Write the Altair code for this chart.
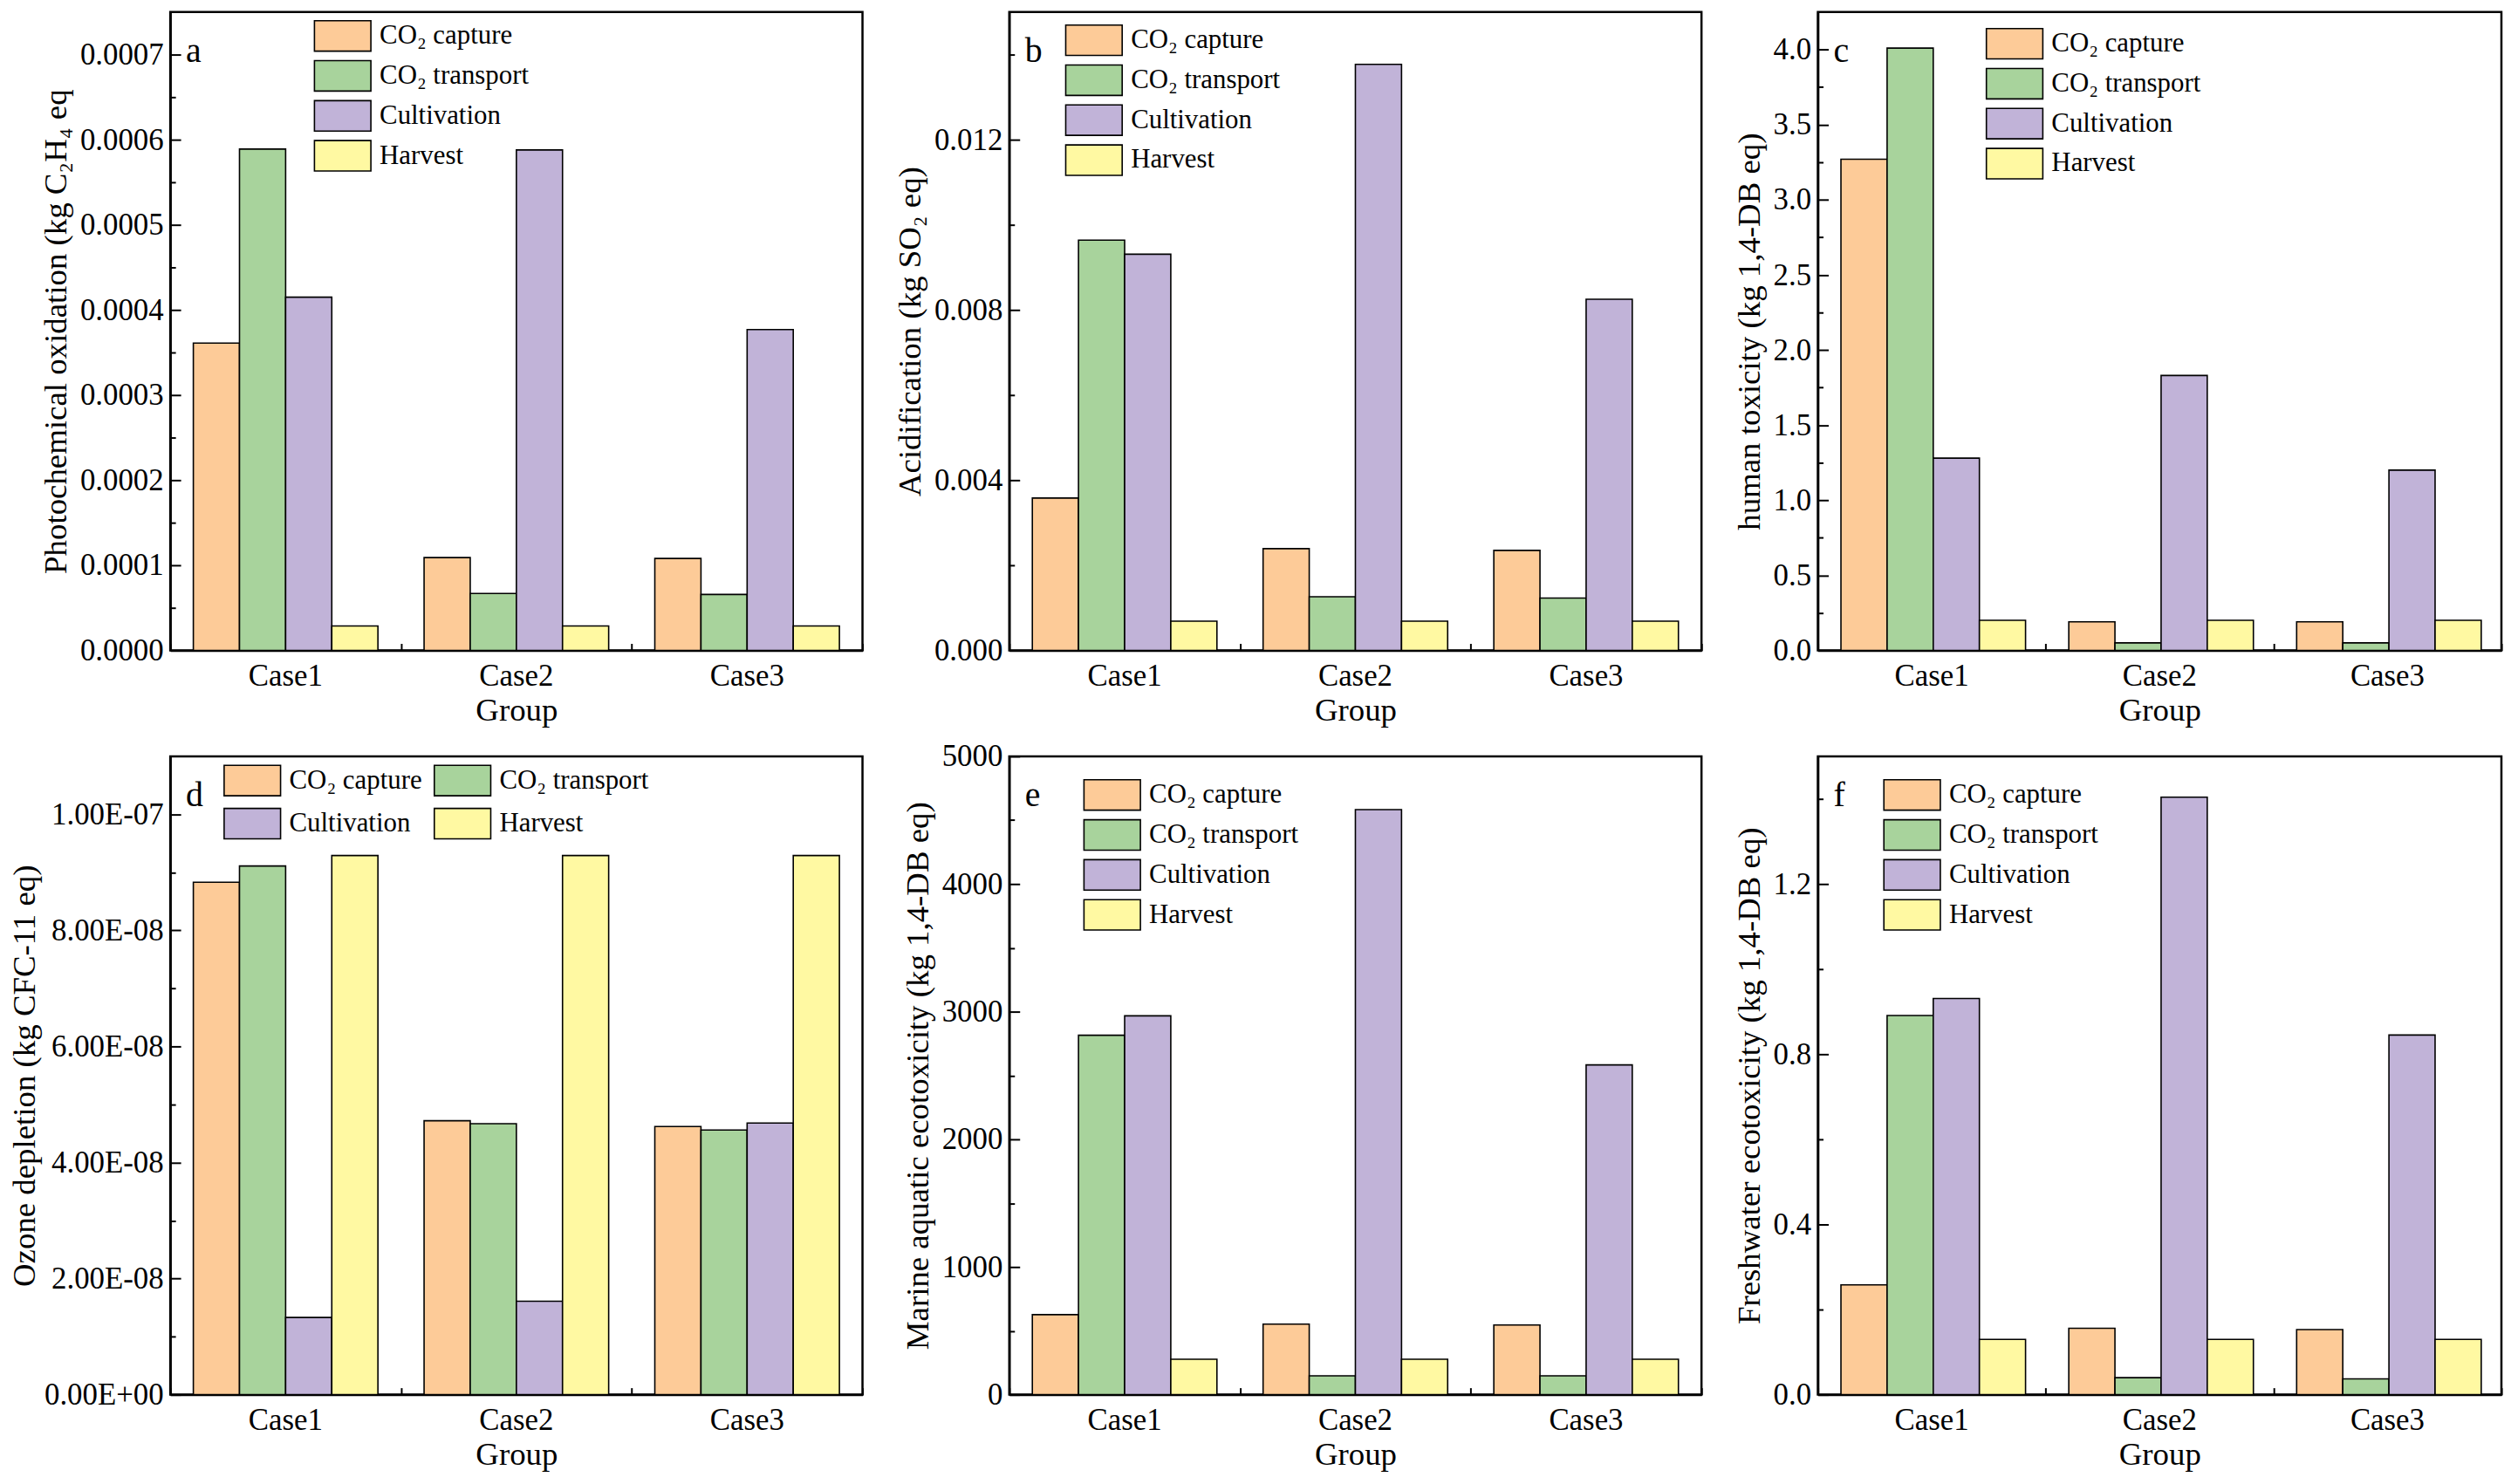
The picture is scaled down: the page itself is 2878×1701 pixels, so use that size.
import altair as alt
import pandas as pd

# ---------------- data ----------------
cases = ["Case1", "Case2", "Case3"]
stages = ["CO₂ capture", "CO₂ transport", "Cultivation", "Harvest"]
stage_colors = ["#FDCB98", "#A8D39C", "#C1B3D8", "#FFF9A2"]

# a: Photochemical oxidation
photo_capture = [0.000361, 0.000109, 0.000108]
photo_transport = [0.000589, 0.0000669, 0.0000657]
photo_cultivation = [0.000415, 0.000588, 0.000377]
photo_harvest = [0.0000287, 0.0000287, 0.0000287]

# b: Acidification
acid_capture = [0.00358, 0.00239, 0.00235]
acid_transport = [0.00964, 0.00126, 0.00123]
acid_cultivation = [0.00931, 0.01377, 0.00825]
acid_harvest = [0.000685, 0.000685, 0.000685]

# c: human toxicity
human_capture = [3.27, 0.19, 0.19]
human_transport = [4.01, 0.05, 0.05]
human_cultivation = [1.28, 1.83, 1.20]
human_harvest = [0.20, 0.20, 0.20]

# d: Ozone depletion
ozone_capture = [8.83e-8, 4.72e-8, 4.62e-8]
ozone_transport = [9.11e-8, 4.67e-8, 4.56e-8]
ozone_cultivation = [1.33e-8, 1.61e-8, 4.68e-8]
ozone_harvest = [9.29e-8, 9.29e-8, 9.29e-8]

# e: Marine aquatic ecotoxicity
marine_capture = [627, 553, 546]
marine_transport = [2815, 148, 148]
marine_cultivation = [2967, 4583, 2583]
marine_harvest = [277, 277, 277]

# f: Freshwater ecotoxicity
fresh_capture = [0.258, 0.156, 0.153]
fresh_transport = [0.891, 0.040, 0.037]
fresh_cultivation = [0.931, 1.404, 0.845]
fresh_harvest = [0.130, 0.130, 0.130]

# axis ticks
a_major = [0, 0.0001, 0.0002, 0.0003, 0.0004, 0.0005, 0.0006, 0.0007]
a_minor = [0.00005, 0.00015, 0.00025, 0.00035, 0.00045, 0.00055, 0.00065]
b_major = [0, 0.004, 0.008, 0.012]
b_minor = [0.002, 0.006, 0.010, 0.014]
c_major = [0, 0.5, 1.0, 1.5, 2.0, 2.5, 3.0, 3.5, 4.0]
c_minor = [0.25, 0.75, 1.25, 1.75, 2.25, 2.75, 3.25, 3.75]
d_major = [0, 2e-8, 4e-8, 6e-8, 8e-8, 1e-7]
d_minor = [1e-8, 3e-8, 5e-8, 7e-8, 9e-8]
e_major = [0, 1000, 2000, 3000, 4000, 5000]
e_minor = [500, 1500, 2500, 3500, 4500]
f_major = [0, 0.4, 0.8, 1.2]
f_minor = [0.2, 0.6, 1.0, 1.4]

FONT = "Liberation Serif"
W1, W2, W3 = 797, 797, 787
H = 735


def frame(cap, tra, cul, har):
    rows = []
    for s, vals in zip(stages, [cap, tra, cul, har]):
        for c, v in zip(cases, vals):
            rows.append({"case": c, "stage": s, "value": v})
    return pd.DataFrame(rows)


def panel(df, ytitle, domain, major, minor, letter, W, lx, ly, fmt=None,
          label_expr=None, legend_order=None, legend_cols=1, title_pad=8,
          row_pad=3):
    order = legend_order or stages
    cmap = dict(zip(stages, stage_colors))
    xscale = alt.Scale(domain=cases, paddingInner=0, paddingOuter=0)
    xoff = alt.XOffset("stage:N", sort=stages,
                       scale=alt.Scale(domain=stages, paddingInner=0, paddingOuter=0.5))
    yscale = alt.Scale(domain=domain, nice=False, zero=True)

    yaxis_kw = dict(orient="left", title=ytitle, values=major, ticks=False,
                    labelPadding=8, titlePadding=title_pad)
    if fmt:
        yaxis_kw["format"] = fmt
    if label_expr:
        yaxis_kw["labelExpr"] = label_expr

    base = alt.Chart(df)
    bars = base.mark_bar(stroke="black", strokeWidth=1.6).encode(
        x=alt.X("case:N", sort=cases, scale=xscale,
                axis=alt.Axis(orient="bottom", title="Group", ticks=False,
                              labelPadding=12, titlePadding=4, labelAngle=0)),
        xOffset=xoff,
        y=alt.Y("value:Q", scale=yscale, axis=alt.Axis(**yaxis_kw)),
        color=alt.Color(
            "stage:N",
            scale=alt.Scale(domain=order, range=[cmap[s] for s in order]),
            legend=alt.Legend(
                title=None, orient="none", legendX=lx + 15, legendY=ly,
                columns=legend_cols, columnPadding=10, rowPadding=row_pad,
                symbolType="M-1.857,-1L1.857,-1L1.857,1L-1.857,1Z",
                symbolSize=1225, symbolStrokeColor="black",
                symbolStrokeWidth=1.6, symbolOpacity=1,
                labelFont=FONT, labelFontSize=31, labelColor="black",
                labelOffset=24, labelLimit=400, padding=0,
            ),
        ),
    )
    major_ticks = base.mark_bar(opacity=0).encode(
        x=alt.X("case:N", sort=cases, scale=xscale,
                axis=alt.Axis(orient="top", offset=-H, labels=False, title=None,
                              domain=False, tickBand="extent", tickSize=8,
                              tickWidth=2, tickColor="black")),
        xOffset=xoff,
        y=alt.Y("value:Q", scale=yscale,
                axis=alt.Axis(orient="right", offset=-W, labels=False, title=None,
                              domain=False, values=major, tickSize=12,
                              tickWidth=2, tickColor="black")),
    )
    minor_ticks = base.mark_bar(opacity=0).encode(
        x=alt.X("case:N", sort=cases, scale=xscale, axis=None),
        xOffset=xoff,
        y=alt.Y("value:Q", scale=yscale,
                axis=alt.Axis(orient="right", offset=-W, labels=False, title=None,
                              domain=False, values=minor, tickSize=6,
                              tickWidth=2, tickColor="black")),
    )
    tag = alt.Chart(pd.DataFrame({"t": [letter]})).mark_text(
        font=FONT, fontSize=40, align="left", baseline="middle", color="black"
    ).encode(x=alt.value(18), y=alt.value(45), text="t:N")

    return alt.layer(bars, major_ticks, minor_ticks, tag).resolve_axis(
        x="independent", y="independent"
    ).properties(width=W, height=H)


d_expr = ("replace(replace(upper(format(datum.value, '.2e')), 'E-', 'E-0'), "
          "'E+0', 'E+00')")

pa = panel(frame(photo_capture, photo_transport, photo_cultivation, photo_harvest),
           "Photochemical  oxidation (kg C₂H₄ eq", [0, 0.00075], a_major, a_minor,
           "a", W1, 165, 9, fmt=".4f")
pb = panel(frame(acid_capture, acid_transport, acid_cultivation, acid_harvest),
           "Acidification (kg SO₂ eq)", [0, 0.015], b_major, b_minor,
           "b", W2, 64, 14, fmt=".3f")
pc = panel(frame(human_capture, human_transport, human_cultivation, human_harvest),
           "human toxicity (kg 1,4-DB eq)", [0, 4.25], c_major, c_minor,
           "c", W3, 193, 18, fmt=".1f")
pd_ = panel(frame(ozone_capture, ozone_transport, ozone_cultivation, ozone_harvest),
            "Ozone depletion (kg CFC-11 eq)", [0, 1.1e-7], d_major, d_minor,
            "d", W1, 61, 9, label_expr=d_expr,
            legend_order=["CO₂ capture", "Cultivation", "CO₂ transport", "Harvest"],
            legend_cols=2, title_pad=3, row_pad=7)
pe = panel(frame(marine_capture, marine_transport, marine_cultivation, marine_harvest),
           "Marine aquatic ecotoxicity (kg 1,4-DB eq)", [0, 5000], e_major, e_minor,
           "e", W2, 85, 26, fmt="d")
pf = panel(frame(fresh_capture, fresh_transport, fresh_cultivation, fresh_harvest),
           "Freshwater ecotoxicity (kg 1,4-DB eq)", [0, 1.5], f_major, f_minor,
           "f", W3, 75, 26, fmt=".1f")

chart = alt.concat(pa, pb, pc, pd_, pe, pf, columns=3,
                   spacing={"row": 14, "column": 32}).resolve_scale(
    color="independent"
).resolve_legend(color="independent").configure(
    background="white", padding=0
).configure_view(
    stroke="black", strokeWidth=2.5
).configure_axis(
    grid=False, domainColor="black", domainWidth=2.5,
    labelFont=FONT, labelFontSize=35, labelColor="black",
    titleFont=FONT, titleFontSize=37, titleColor="black", titleFontWeight="normal",
)

chart.save("out.html", embed_options={"renderer": "svg", "actions": False})
